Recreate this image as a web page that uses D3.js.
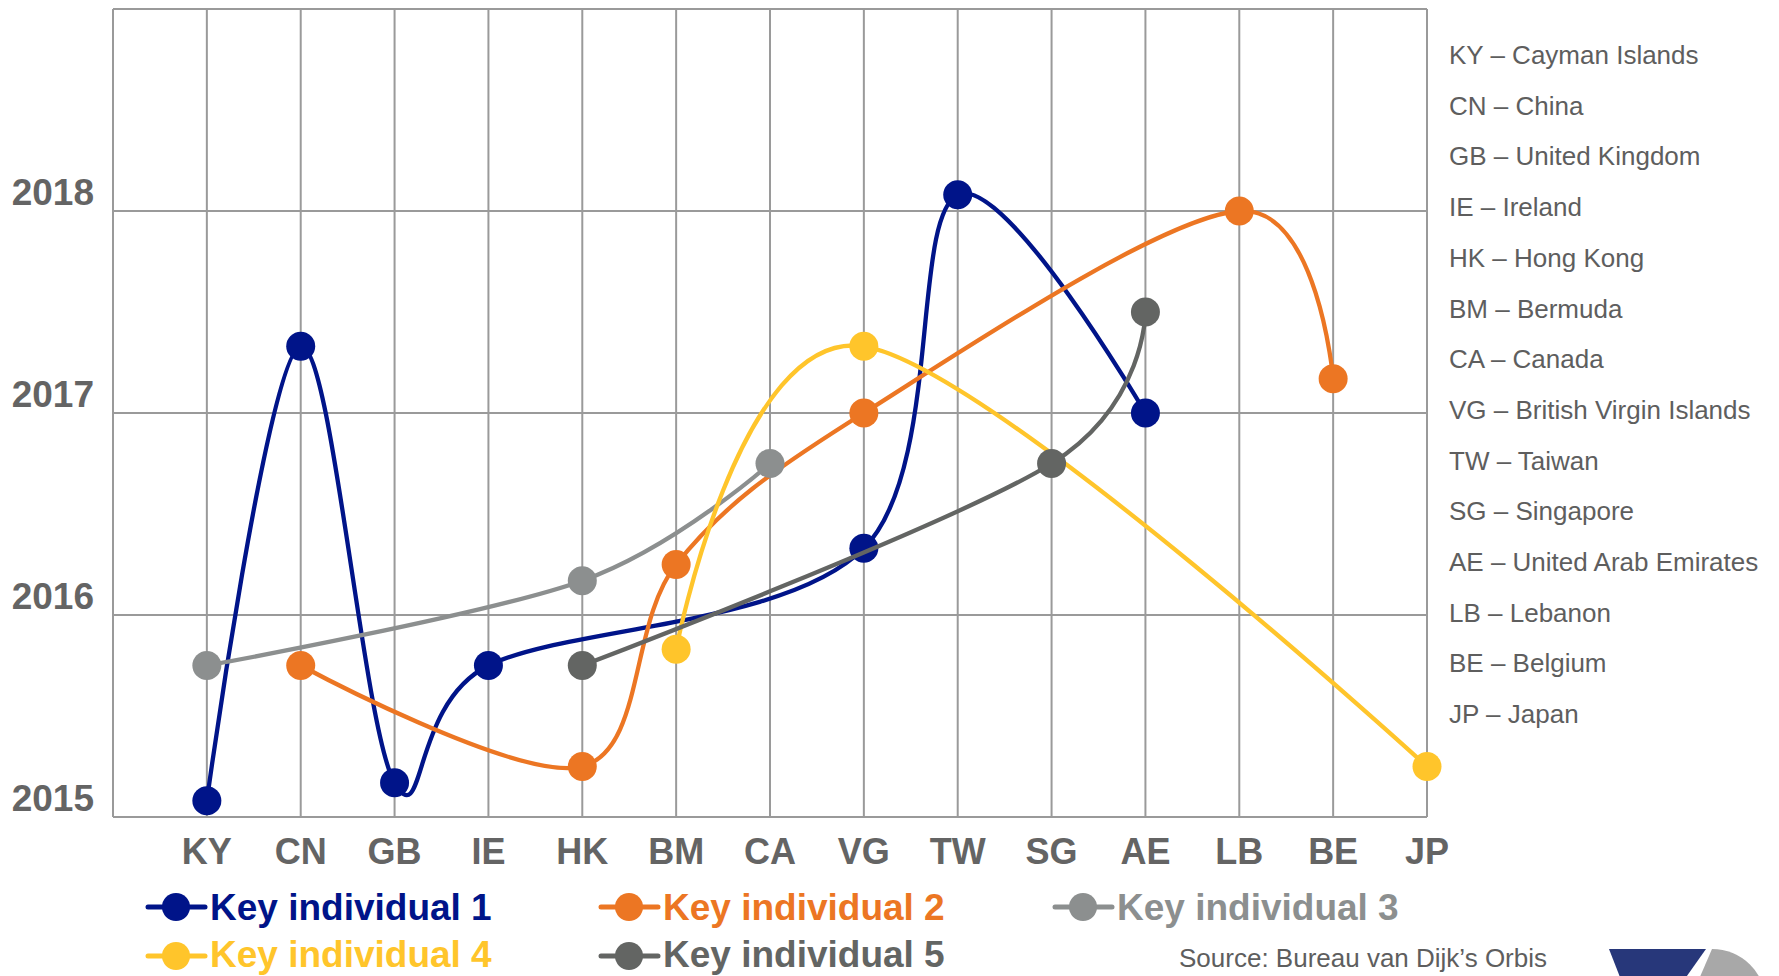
<!DOCTYPE html>
<html>
<head>
<meta charset="utf-8">
<script src="https://cdn.jsdelivr.net/npm/d3@7/dist/d3.min.js"></script>
<style>
  html, body { margin: 0; padding: 0; background: #ffffff; }
  svg { display: block; font-family: "Liberation Sans", Arial, sans-serif; }
</style>
</head>
<body>
<svg id="chart" width="1779" height="976"></svg>
<script>
// ---- Data ----
const categories = ["KY","CN","GB","IE","HK","BM","CA","VG","TW","SG","AE","LB","BE","JP"];
const countryNames = ["Cayman Islands","China","United Kingdom","Ireland","Hong Kong","Bermuda","Canada",
  "British Virgin Islands","Taiwan","Singapore","United Arab Emirates","Lebanon","Belgium","Japan"];
const yearTicks = [2015, 2016, 2017, 2018];
const yearDomain = [2015, 2019];
const seriesNames = ["Key individual 1","Key individual 2","Key individual 3","Key individual 4","Key individual 5"];
const seriesColors = ["#001489","#EC7623","#8C8F8F","#FFC52B","#636563"];
const key1 = [2015.08, 2017.33, 2015.17, 2015.75, null, null, null, 2016.33, 2018.08, null, 2017.0, null, null, null];
const key2 = [null, 2015.75, null, null, 2015.25, 2016.25, null, 2017.0, null, null, null, 2018.0, 2017.17, null];
const key3 = [2015.75, null, null, null, 2016.17, null, 2016.75, null, null, null, null, null, null, null];
const key4 = [null, null, null, null, null, 2015.83, null, 2017.33, null, null, null, null, null, 2015.25];
const key5 = [null, null, null, null, 2015.75, null, null, null, null, 2016.75, 2017.5, null, null, null];
const seriesValues = [key1, key2, key3, key4, key5];
const sourceText = "Source: Bureau van Dijk\u2019s Orbis";

// ---- Layout ----
const svg = d3.select("#chart");
const plot = { left: 113, right: 1427, top: 9, bottom: 817 };
const step = (plot.right - plot.left) / categories.length;
const x = d3.scalePoint().domain(categories).range([plot.left + step, plot.right]).padding(0);
const y = d3.scaleLinear().domain(yearDomain).range([plot.bottom, plot.top]);
const gridColor = "#9A9A9A";
const textGray = "#646464";

// Grid
const grid = svg.append("g");
grid.selectAll("line.h").data(d3.range(yearDomain[0], yearDomain[1] + 1)).join("line")
  .attr("x1", plot.left).attr("x2", plot.right)
  .attr("y1", d => y(d)).attr("y2", d => y(d))
  .attr("stroke", gridColor).attr("stroke-width", 2);
grid.selectAll("line.v").data([null].concat(categories)).join("line")
  .attr("x1", d => d === null ? plot.left : x(d)).attr("x2", d => d === null ? plot.left : x(d))
  .attr("y1", plot.top).attr("y2", plot.bottom)
  .attr("stroke", gridColor).attr("stroke-width", 2);

// Y labels
svg.append("g").selectAll("text").data(yearTicks).join("text")
  .attr("x", 94).attr("y", d => y(d) - 6)
  .attr("text-anchor", "end")
  .attr("font-size", 37).attr("font-weight", "bold").attr("fill", textGray)
  .text(d => d);

// X labels
svg.append("g").selectAll("text").data(categories).join("text")
  .attr("x", d => x(d)).attr("y", 864)
  .attr("text-anchor", "middle")
  .attr("font-size", 36).attr("font-weight", "bold").attr("fill", textGray)
  .text(d => d);

// Series
const line = d3.line().x(d => x(d.cat)).y(d => y(d.v)).curve(d3.curveCardinal.tension(0));
seriesValues.forEach((vals, si) => {
  const pts = vals.map((v, i) => ({ cat: categories[i], v })).filter(d => d.v !== null);
  const g = svg.append("g");
  g.append("path").datum(pts).attr("d", line)
    .attr("fill", "none").attr("stroke", seriesColors[si]).attr("stroke-width", 4.3)
    .attr("stroke-linejoin", "round").attr("stroke-linecap", "round");
  g.selectAll("circle").data(pts).join("circle")
    .attr("cx", d => x(d.cat)).attr("cy", d => y(d.v)).attr("r", 14.5)
    .attr("fill", seriesColors[si]);
});

// Country legend (right)
svg.append("g").selectAll("text").data(categories).join("text")
  .attr("x", 1449).attr("y", (d, i) => 64 + i * 50.7)
  .attr("font-size", 26).attr("fill", "#5E5E5E")
  .text((d, i) => d + " \u2013 " + countryNames[i]);

// Series legend (bottom)
const legX = [148, 601, 1055];
const legRowY = [907, 956];
const legTextY = [920, 967];
const leg = svg.append("g");
seriesNames.forEach((name, i) => {
  const row = Math.floor(i / 3);
  const lx = legX[i % 3], ly = legRowY[row];
  leg.append("line").attr("x1", lx).attr("x2", lx + 57).attr("y1", ly).attr("y2", ly)
    .attr("stroke", seriesColors[i]).attr("stroke-width", 5).attr("stroke-linecap", "round");
  leg.append("circle").attr("cx", lx + 28).attr("cy", ly).attr("r", 14).attr("fill", seriesColors[i]);
  leg.append("text").attr("x", lx + 62).attr("y", legTextY[row])
    .attr("font-size", 37).attr("font-weight", "bold").attr("fill", seriesColors[i])
    .text(name);
});

// Source
svg.append("text").attr("x", 1179).attr("y", 967)
  .attr("font-size", 26).attr("fill", "#5E5E5E").text(sourceText);

// Logo fragment (bottom right)
svg.append("path").attr("d", "M1609,949 L1706,949 L1677,990 L1625,990 Z").attr("fill", "#27377A");
svg.append("defs").append("clipPath").attr("id", "logoClip")
  .append("path").attr("d", "M1712,949 L1800,949 L1800,1000 L1690,1000 Z");
svg.append("circle").attr("cx", 1712).attr("cy", 1003).attr("r", 54)
  .attr("fill", "#A8A8A8").attr("clip-path", "url(#logoClip)");
</script>
</body>
</html>
